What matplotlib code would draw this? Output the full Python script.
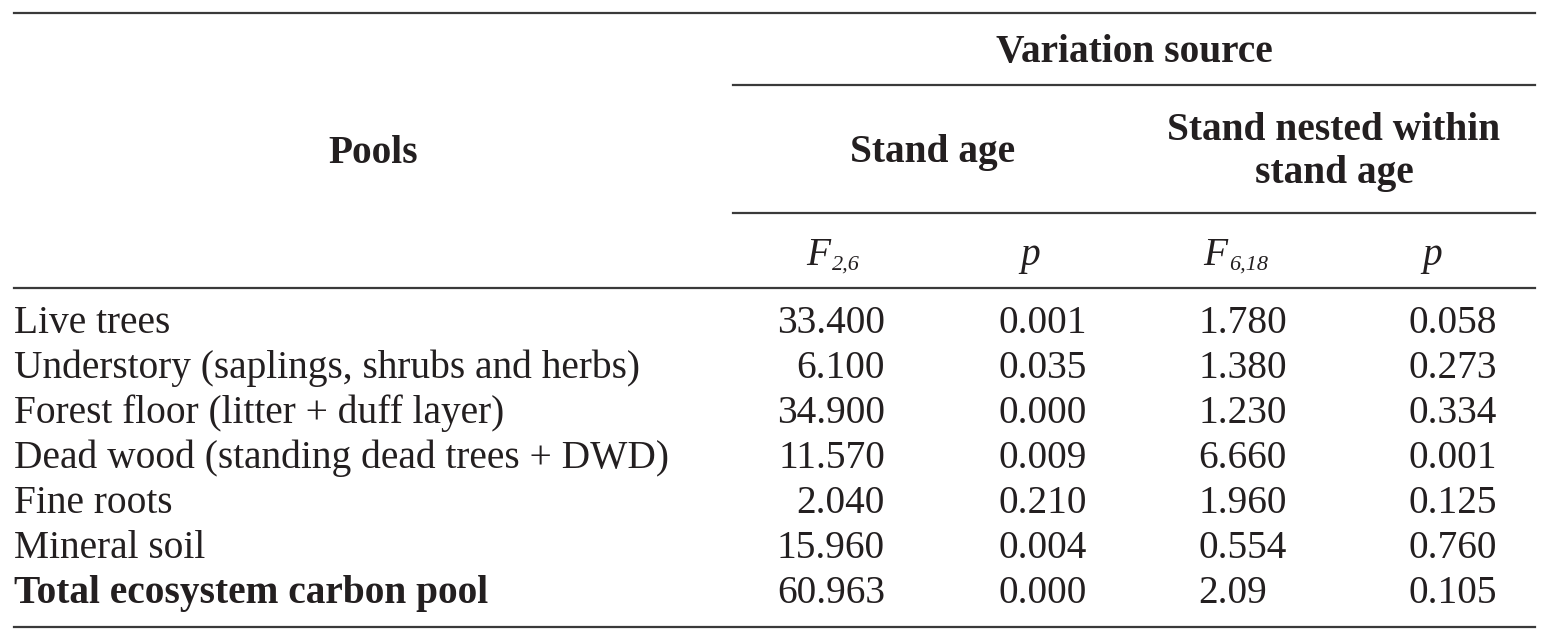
import matplotlib
matplotlib.use("Agg")
import matplotlib.pyplot as plt

# table content
pools = ["Live trees",
         "Understory (saplings, shrubs and herbs)",
         "Forest floor (litter + duff layer)",
         "Dead wood (standing dead trees + DWD)",
         "Fine roots",
         "Mineral soil",
         "Total ecosystem carbon pool"]
f_age = ["33.400", "6.100", "34.900", "11.570", "2.040", "15.960", "60.963"]
p_age = ["0.001", "0.035", "0.000", "0.009", "0.210", "0.004", "0.000"]
f_stand = ["1.780", "1.380", "1.230", "6.660", "1.960", "0.554", "2.09"]
p_stand = ["0.058", "0.273", "0.334", "0.001", "0.125", "0.760", "0.105"]

plt.rcParams['font.family'] = ['Liberation Serif', 'DejaVu Serif']

txt = '#231f20'
lc = '#3a3a3a'
fs = 28.4
sub_fs = 16

fig = plt.figure(figsize=(15.46, 6.4), dpi=100)
ax = fig.add_axes([0, 0, 1, 1])
ax.set_xlim(0, 1546)
ax.set_ylim(640, 0)
ax.axis('off')

# rules
ax.plot([14, 1535], [13, 13], color=lc, lw=1.6)
ax.plot([733, 1535], [85, 85], color=lc, lw=1.6)
ax.plot([733, 1535], [213, 213], color=lc, lw=1.6)
ax.plot([14, 1535], [288, 288], color=lc, lw=1.6)
ax.plot([14, 1535], [627, 627], color=lc, lw=1.6)

# header
ax.text(1134, 62, "Variation source", ha='center', va='baseline', fontsize=fs,
        fontweight='bold', color=txt)
ax.text(373, 163, "Pools", ha='center', va='baseline', fontsize=fs,
        fontweight='bold', color=txt)
ax.text(933, 162, "Stand age", ha='center', va='baseline', fontsize=fs,
        fontweight='bold', color=txt)
ax.text(1334, 140, "Stand nested within", ha='center', va='baseline',
        fontsize=fs, fontweight='bold', color=txt)
ax.text(1334, 183, "stand age", ha='center', va='baseline',
        fontsize=fs, fontweight='bold', color=txt)

# F statistics with subscripted degrees of freedom
for x, sub in [(806, "2,6"), (1203, "6,18")]:
    ax.text(x, 265, "F", ha='left', va='baseline', fontsize=fs,
            fontstyle='italic', color=txt)
    ax.text(x + 26, 270, sub, ha='left', va='baseline', fontsize=sub_fs,
            fontstyle='italic', color=txt)
for x in [1030, 1432]:
    ax.text(x, 265, "p", ha='center', va='baseline', fontsize=fs,
            fontstyle='italic', color=txt)

# body rows
y0, dy = 333, 45
for i, name in enumerate(pools):
    y = y0 + i * dy
    bold = 'bold' if i == len(pools) - 1 else 'normal'
    ax.text(14, y, name, ha='left', va='baseline', fontsize=fs, fontweight=bold, color=txt)
    ax.text(885, y, f_age[i], ha='right', va='baseline', fontsize=fs, color=txt)
    ax.text(998, y, p_age[i], ha='left', va='baseline', fontsize=fs, color=txt)
    ax.text(1198, y, f_stand[i], ha='left', va='baseline', fontsize=fs, color=txt)
    ax.text(1409, y, p_stand[i], ha='left', va='baseline', fontsize=fs, color=txt)

fig.savefig("out.png", dpi=100)
